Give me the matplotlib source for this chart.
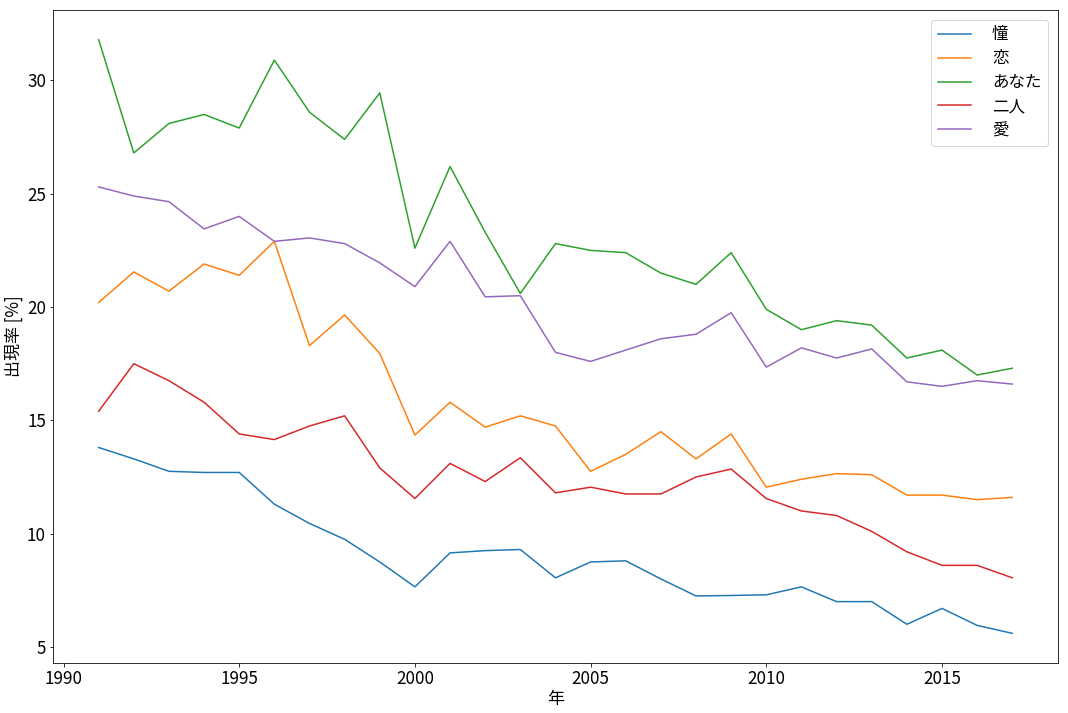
import numpy as np
import matplotlib
matplotlib.use("Agg")
import matplotlib.pyplot as plt

plt.rcParams['font.family'] = ['Noto Sans CJK JP', 'DejaVu Sans']

# data
years = list(range(1991, 2018))
labels = ["憧", "恋", "あなた", "二人", "愛"]

akogare = [13.8, 13.3, 12.75, 12.7, 12.7, 11.3, 10.45, 9.75, 8.75, 7.65,
           9.15, 9.25, 9.3, 8.05, 8.75, 8.8, 8.0, 7.25, 7.27, 7.3,
           7.65, 7.0, 7.0, 6.0, 6.7, 5.95, 5.6]
koi = [20.2, 21.55, 20.7, 21.9, 21.4, 22.9, 18.3, 19.65, 17.95, 14.35,
       15.8, 14.7, 15.2, 14.75, 12.75, 13.5, 14.5, 13.3, 14.4, 12.05,
       12.4, 12.65, 12.6, 11.7, 11.7, 11.5, 11.6]
anata = [31.8, 26.8, 28.1, 28.5, 27.9, 30.9, 28.6, 27.4, 29.45, 22.6,
         26.2, 23.3, 20.6, 22.8, 22.5, 22.4, 21.5, 21.0, 22.4, 19.9,
         19.0, 19.4, 19.2, 17.75, 18.1, 17.0, 17.3]
futari = [15.4, 17.5, 16.75, 15.8, 14.4, 14.15, 14.75, 15.2, 12.9, 11.55,
          13.1, 12.3, 13.35, 11.8, 12.05, 11.75, 11.75, 12.5, 12.85, 11.55,
          11.0, 10.8, 10.1, 9.2, 8.6, 8.6, 8.05]
ai = [25.3, 24.9, 24.65, 23.45, 24.0, 22.9, 23.05, 22.8, 21.95, 20.9,
      22.9, 20.45, 20.5, 18.0, 17.6, 18.1, 18.6, 18.8, 19.75, 17.35,
      18.2, 17.75, 18.15, 16.7, 16.5, 16.75, 16.6]

series = [akogare, koi, anata, futari, ai]

fig = plt.figure(figsize=(1068 / 72, 713 / 72), dpi=72)
ax = fig.add_subplot(111)
fig.subplots_adjust(left=0.0496, right=0.9906, top=0.986, bottom=0.0701)

for vals, lab in zip(series, labels):
    ax.plot(years, vals, label=lab)

ax.tick_params(labelsize=17)
ax.set_xlabel("年", fontsize=17, labelpad=2)
ax.set_ylabel("出現率 [%]", fontsize=17, labelpad=4)
ax.legend(fontsize=16.5, loc="upper right", handletextpad=1.3,
          labelspacing=0.42, borderaxespad=0.6)

fig.savefig("out.png", dpi=72)
